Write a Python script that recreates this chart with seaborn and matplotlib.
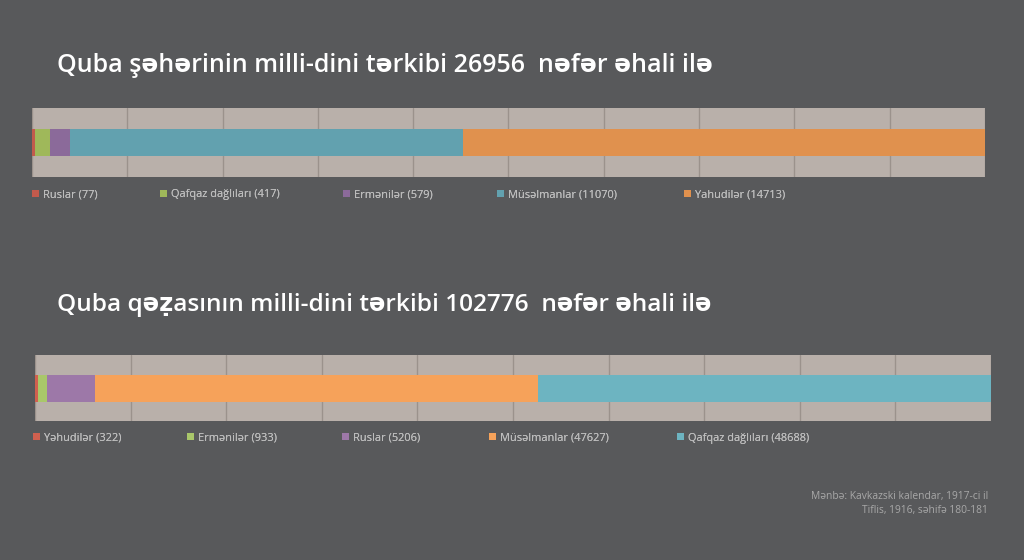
import matplotlib
matplotlib.use("Agg")
import matplotlib.pyplot as plt
from matplotlib.patches import Patch
import seaborn as sns
import numpy as np

# Data: city of Quba
city_labels = ["Ruslar", "Qafqaz dağlıları", "Ermənilər", "Müsəlmanlar", "Yahudilər"]
city_values = [77, 417, 579, 11070, 14713]
city_colors = ["#c25a4c", "#9fb85a", "#8b6a9a", "#62a1af", "#e0914e"]
city_title = "Quba şəhərinin milli-dini tərkibi 26956  nəfər əhali ilə"

# Data: Quba district
uezd_labels = ["Yəhudilər", "Ermənilər", "Ruslar", "Müsəlmanlar", "Qafqaz dağlıları"]
uezd_values = [322, 933, 5206, 47627, 48688]
uezd_colors = ["#d0604f", "#a9c76a", "#9d78a8", "#f6a25a", "#6db4c1"]
uezd_title = "Quba qəẓasının milli-dini tərkibi 102776  nəfər əhali ilə"

source_lines = ["Mənbə: Kavkazski kalendar, 1917-ci il", "Tiflis, 1916, səhifə 180-181"]

# legend entry x positions (pixels) as laid out in the original
city_leg_x = [32, 160, 343, 497, 684]
uezd_leg_x = [33, 187, 342, 489, 677]

sns.set_theme(style="white")
plt.rcParams["font.family"] = ["Open Sans", "DejaVu Sans"]

W, H = 1024, 560
BG = "#58595b"
PLOT_BG = "#b9b0aa"
fig = plt.figure(figsize=(W / 100, H / 100), dpi=100, facecolor=BG)


def stacked(ax, labels, values, colors, bar_h):
    pct = np.array(values) / np.sum(values) * 100
    cum = np.cumsum(pct)
    # draw longest cumulative first so shorter ones sit on top
    for i in range(len(labels) - 1, -1, -1):
        sns.barplot(x=[cum[i]], y=["q"], orient="h", color=colors[i],
                    width=bar_h, saturation=1, linewidth=0, ax=ax, zorder=3)
    ax.set_xlim(0, 100)
    ax.set_ylim(0.5, -0.5)
    ax.set_facecolor(PLOT_BG)
    ax.set_xticks(np.arange(0, 101, 10))
    ax.grid(axis="x", color="#9b928c", linewidth=1, zorder=0)
    ax.set_axisbelow(True)
    ax.set_xticklabels([])
    ax.set_yticks([])
    ax.set_xlabel("")
    ax.set_ylabel("")
    ax.tick_params(length=0)
    for s in ax.spines.values():
        s.set_visible(False)


def legend(labels, values, colors, xs, y_px):
    for l, v, c, x in zip(labels, values, colors, xs):
        lg = fig.legend([Patch(facecolor=c, edgecolor="none")], [f"{l} ({v})"],
                        loc="center left", bbox_to_anchor=(x / W, 1 - y_px / H),
                        frameon=False, fontsize=7.9, labelcolor="#bdbdbd",
                        handlelength=0.6, handleheight=0.6, handletextpad=0.4,
                        borderpad=0, borderaxespad=0)
        fig.add_artist(lg)


# top chart
ax1 = fig.add_axes([32 / W, 1 - 177 / H, 953 / W, 69 / H])
stacked(ax1, city_labels, city_values, city_colors, 27 / 69)
fig.text(57 / W, 1 - 65 / H, city_title, color="white", fontsize=18,
         fontweight="semibold", ha="left", va="center")
legend(city_labels, city_values, city_colors, city_leg_x, 195)

# bottom chart
ax2 = fig.add_axes([35 / W, 1 - 421 / H, 956 / W, 66 / H])
stacked(ax2, uezd_labels, uezd_values, uezd_colors, 27 / 66)
fig.text(57 / W, 1 - 305 / H, uezd_title, color="white", fontsize=17.6,
         fontweight="semibold", ha="left", va="center")
legend(uezd_labels, uezd_values, uezd_colors, uezd_leg_x, 438)

fig.text(988 / W, 1 - 496 / H, source_lines[0], color="#a8a8a8", fontsize=7.4,
         ha="right", va="center")
fig.text(988 / W, 1 - 511 / H, source_lines[1], color="#a8a8a8", fontsize=7.4,
         ha="right", va="center")

fig.savefig("out.png", dpi=100, facecolor=BG)
